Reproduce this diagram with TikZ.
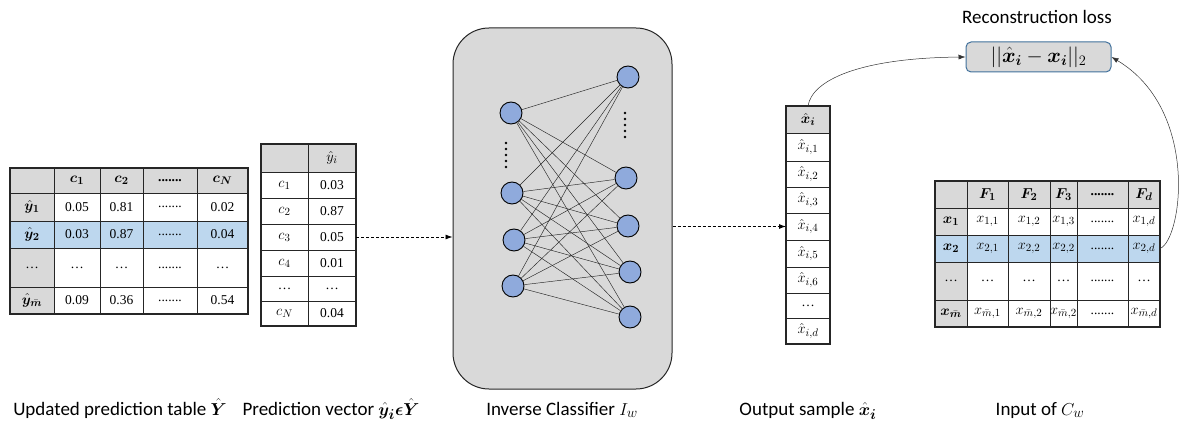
\documentclass[tikz,border=0pt]{standalone}
\usepackage{amsmath,bm}
\usepackage{fontspec}
\setmainfont{Liberation Serif}
\newfontfamily\labfont{Carlito}
\DeclareMathSizes{13.5}{14}{10.5}{8}
\DeclareMathSizes{19}{19}{14}{10}
\DeclareMathSizes{20}{20}{15}{11}
\usetikzlibrary{arrows.meta}
\definecolor{hd}{HTML}{D9D9D9}
\definecolor{hl}{HTML}{BDD7EE}
\definecolor{neu}{HTML}{8FAADC}
\definecolor{lossb}{HTML}{41719C}
\newcommand\tc[7]{\node[tcell,fill=#2,minimum width={(#5-#3)*1pt},minimum height={(#6-#4)*1pt}] (#1) at ({(#3+#5)/2},{(#4+#6)/2}) {#7};}
\newcommand\dd{.......}
\begin{document}
\begin{tikzpicture}[x=1pt,y=-1pt,
  tcell/.style={draw=black!85,line width=0.9pt,inner sep=0pt,outer sep=0pt,font=\fontsize{13.5}{15}\selectfont},
  outer/.style={draw=black!85,line width=1.2pt},
  neuron/.style={circle,draw=black,line width=0.9pt,fill=neu,minimum size=22pt,inner sep=0pt},
  wire/.style={line width=0.45pt,black!85},
  dotmark/.style={circle,fill=black,inner sep=0pt,minimum size=2.6pt},
  dasharrow/.style={dash pattern=on 3pt off 2pt,line width=0.8pt,-{Latex[length=7pt,width=5pt]}},
  curvearrow/.style={line width=0.5pt,black!80,-{Latex[length=7pt,width=5pt]}},
  lab/.style={font=\labfont\fontsize{19}{22}\selectfont,inner sep=0pt,anchor=base}]
\useasboundingbox (0,0) rectangle (1182,427);

% ---------- Table 1 : updated prediction table ----------
\tc{a00}{hd}{10}{168}{54}{193}{}
\tc{a01}{hd}{54}{168}{100}{193}{$\bm{c_1}$}
\tc{a02}{hd}{100}{168}{143}{193}{$\bm{c_2}$}
\tc{a03}{hd}{143}{168}{197}{193}{\textbf{\dd}}
\tc{a04}{hd}{197}{168}{248}{193}{$\bm{c_N}$}
\tc{a10}{hd}{10}{193}{54}{221}{$\hat{\bm y}_{\bm 1}$}
\tc{a11}{white}{54}{193}{100}{221}{0.05}
\tc{a12}{white}{100}{193}{143}{221}{0.81}
\tc{a13}{white}{143}{193}{197}{221}{\dd}
\tc{a14}{white}{197}{193}{248}{221}{0.02}
\tc{a20}{hl}{10}{221}{54}{248}{$\hat{\bm y}_{\bm 2}$}
\tc{a21}{hl}{54}{221}{100}{248}{0.03}
\tc{a22}{hl}{100}{221}{143}{248}{0.87}
\tc{a23}{hl}{143}{221}{197}{248}{\dd}
\tc{a24}{hl}{197}{221}{248}{248}{0.04}
\tc{a30}{hd}{10}{248}{54}{287}{…}
\tc{a31}{white}{54}{248}{100}{287}{…}
\tc{a32}{white}{100}{248}{143}{287}{…}
\tc{a33}{white}{143}{248}{197}{287}{\dd}
\tc{a34}{white}{197}{248}{248}{287}{…}
\tc{a40}{hd}{10}{287}{54}{314}{$\hat{\bm y}_{\bar{\bm m}}$}
\tc{a41}{white}{54}{287}{100}{314}{0.09}
\tc{a42}{white}{100}{287}{143}{314}{0.36}
\tc{a43}{white}{143}{287}{197}{314}{\dd}
\tc{a44}{white}{197}{287}{248}{314}{0.54}
\draw[outer] (a00.north west) rectangle (a44.south east);

% ---------- Table 2 : prediction vector ----------
\tc{b00}{hd}{261}{144}{308}{172}{}
\tc{b01}{hd}{308}{144}{356}{172}{$\hat{y}_i$}
\tc{b10}{white}{261}{172}{308}{198}{$c_1$}
\tc{b11}{white}{308}{172}{356}{198}{0.03}
\tc{b20}{white}{261}{198}{308}{224}{$c_2$}
\tc{b21}{white}{308}{198}{356}{224}{0.87}
\tc{b30}{white}{261}{224}{308}{250}{$c_3$}
\tc{b31}{white}{308}{224}{356}{250}{0.05}
\tc{b40}{white}{261}{250}{308}{276}{$c_4$}
\tc{b41}{white}{308}{250}{356}{276}{0.01}
\tc{b50}{white}{261}{276}{308}{301}{…}
\tc{b51}{white}{308}{276}{356}{301}{…}
\tc{b60}{white}{261}{301}{308}{326}{$c_N$}
\tc{b61}{white}{308}{301}{356}{326}{0.04}
\draw[outer] (b00.north west) rectangle (b61.south east);

% ---------- Inverse classifier ----------
\node[draw=black!85,line width=1pt,fill=hd,rounded corners=36pt,minimum width=219pt,minimum height=361pt,inner sep=0pt] (nn) at (562.5,208.5) {};
\node[neuron] (l1) at (511,113) {};
\node[neuron] (l2) at (512,193) {};
\node[neuron] (l3) at (514,240) {};
\node[neuron] (l4) at (513,286) {};
\node[neuron] (r1) at (628,77) {};
\node[neuron] (r2) at (626,178) {};
\node[neuron] (r3) at (628,226) {};
\node[neuron] (r4) at (630,272) {};
\node[neuron] (r5) at (630,317) {};
\foreach \l in {l1,l2,l3,l4}
  \foreach \r in {r1,r2,r3,r4,r5}
    \draw[wire] (\l) -- (\r);
\foreach \k in {0,...,4} {
  \node[dotmark] (ld\k) at (506,{143+6*\k}) {};
  \node[dotmark] (rd\k) at (625,{113+6*\k}) {};
}

% ---------- Output vector ----------
\tc{v0}{hd}{786}{106}{830}{133}{$\hat{\bm x}_{\bm i}$}
\tc{v1}{white}{786}{133}{830}{161}{$\hat{x}_{i,1}$}
\tc{v2}{white}{786}{161}{830}{187}{$\hat{x}_{i,2}$}
\tc{v3}{white}{786}{187}{830}{213}{$\hat{x}_{i,3}$}
\tc{v4}{white}{786}{213}{830}{240}{$\hat{x}_{i,4}$}
\tc{v5}{white}{786}{240}{830}{267}{$\hat{x}_{i,5}$}
\tc{v6}{white}{786}{267}{830}{293}{$\hat{x}_{i,6}$}
\tc{v7}{white}{786}{293}{830}{318}{…}
\tc{v8}{white}{786}{318}{830}{344}{$\hat{x}_{i,d}$}
\draw[outer] (v0.north west) rectangle (v8.south east);

% ---------- Table 3 : input of C_w ----------
\tc{c00}{hd}{935}{181}{967}{208}{}
\tc{c01}{hd}{967}{181}{1008}{208}{$\bm{F_1}$}
\tc{c02}{hd}{1008}{181}{1050}{208}{$\bm{F_2}$}
\tc{c03}{hd}{1050}{181}{1077}{208}{$\bm{F_3}$}
\tc{c04}{hd}{1077}{181}{1128}{208}{\textbf{\dd}}
\tc{c05}{hd}{1128}{181}{1160}{208}{$\bm{F_d}$}
\tc{c10}{hd}{935}{208}{967}{235}{$\bm{x_1}$}
\tc{c11}{white}{967}{208}{1008}{235}{$x_{1,1}$}
\tc{c12}{white}{1008}{208}{1050}{235}{$x_{1,2}$}
\tc{c13}{white}{1050}{208}{1077}{235}{$x_{1,3}$}
\tc{c14}{white}{1077}{208}{1128}{235}{\dd}
\tc{c15}{white}{1128}{208}{1160}{235}{$x_{1,d}$}
\tc{c20}{hl}{935}{235}{967}{262}{$\bm{x_2}$}
\tc{c21}{hl}{967}{235}{1008}{262}{$x_{2,1}$}
\tc{c22}{hl}{1008}{235}{1050}{262}{$x_{2,2}$}
\tc{c23}{hl}{1050}{235}{1077}{262}{$x_{2,2}$}
\tc{c24}{hl}{1077}{235}{1128}{262}{\dd}
\tc{c25}{hl}{1128}{235}{1160}{262}{$x_{2,d}$}
\tc{c30}{hd}{935}{262}{967}{300}{…}
\tc{c31}{white}{967}{262}{1008}{300}{…}
\tc{c32}{white}{1008}{262}{1050}{300}{…}
\tc{c33}{white}{1050}{262}{1077}{300}{…}
\tc{c34}{white}{1077}{262}{1128}{300}{\dd}
\tc{c35}{white}{1128}{262}{1160}{300}{…}
\tc{c40}{hd}{935}{300}{967}{327}{$\bm{x}_{\bar{\bm m}}$}
\tc{c41}{white}{967}{300}{1008}{327}{$x_{\bar{m},1}$}
\tc{c42}{white}{1008}{300}{1050}{327}{$x_{\bar{m},2}$}
\tc{c43}{white}{1050}{300}{1077}{327}{$x_{\bar{m},2}$}
\tc{c44}{white}{1077}{300}{1128}{327}{\dd}
\tc{c45}{white}{1128}{300}{1160}{327}{$x_{\bar{m},d}$}
\draw[outer] (c00.north west) rectangle (c45.south east);

% ---------- Loss ----------
\node[draw=lossb,line width=1pt,fill=hd,rounded corners=5pt,minimum width=145pt,minimum height=30pt,inner sep=0pt,font=\fontsize{20}{22}\selectfont] (loss) at (1038.5,57) {$||\hat{\bm x}_{\bm i}-\bm{x}_{\bm i}||_2$};
\node[font=\labfont\fontsize{19}{22}\selectfont,inner sep=0pt] (losstitle) at (1037,17) {Reconstruction loss};

% ---------- Connectors ----------
\draw[dasharrow] (b31.east) -- (b31.east -| nn.west);
\draw[dasharrow] (v4.west -| nn.east) -- (v4.west);
\draw[curvearrow] (v0.north) .. controls (812,80) and (860,58) .. (loss.west);
\draw[curvearrow] (c25.east) .. controls (1182,240) and (1200,110) .. (loss.east);

% ---------- Captions ----------
\node[lab] (cap1) at (120,415) {Updated prediction table $\hat{\bm Y}$};
\node[lab] (cap2) at (331,415) {Prediction vector $\hat{\bm y}_{\bm i}\bm{\epsilon}\hat{\bm Y}$};
\node[lab] (cap3) at (562,415) {Inverse Classifier $I_w$};
\node[lab] (cap4) at (808,415) {Output sample $\hat{\bm x}_{\bm i}$};
\node[lab] (cap5) at (1040,415) {Input of $C_w$};
\end{tikzpicture}
\end{document}
